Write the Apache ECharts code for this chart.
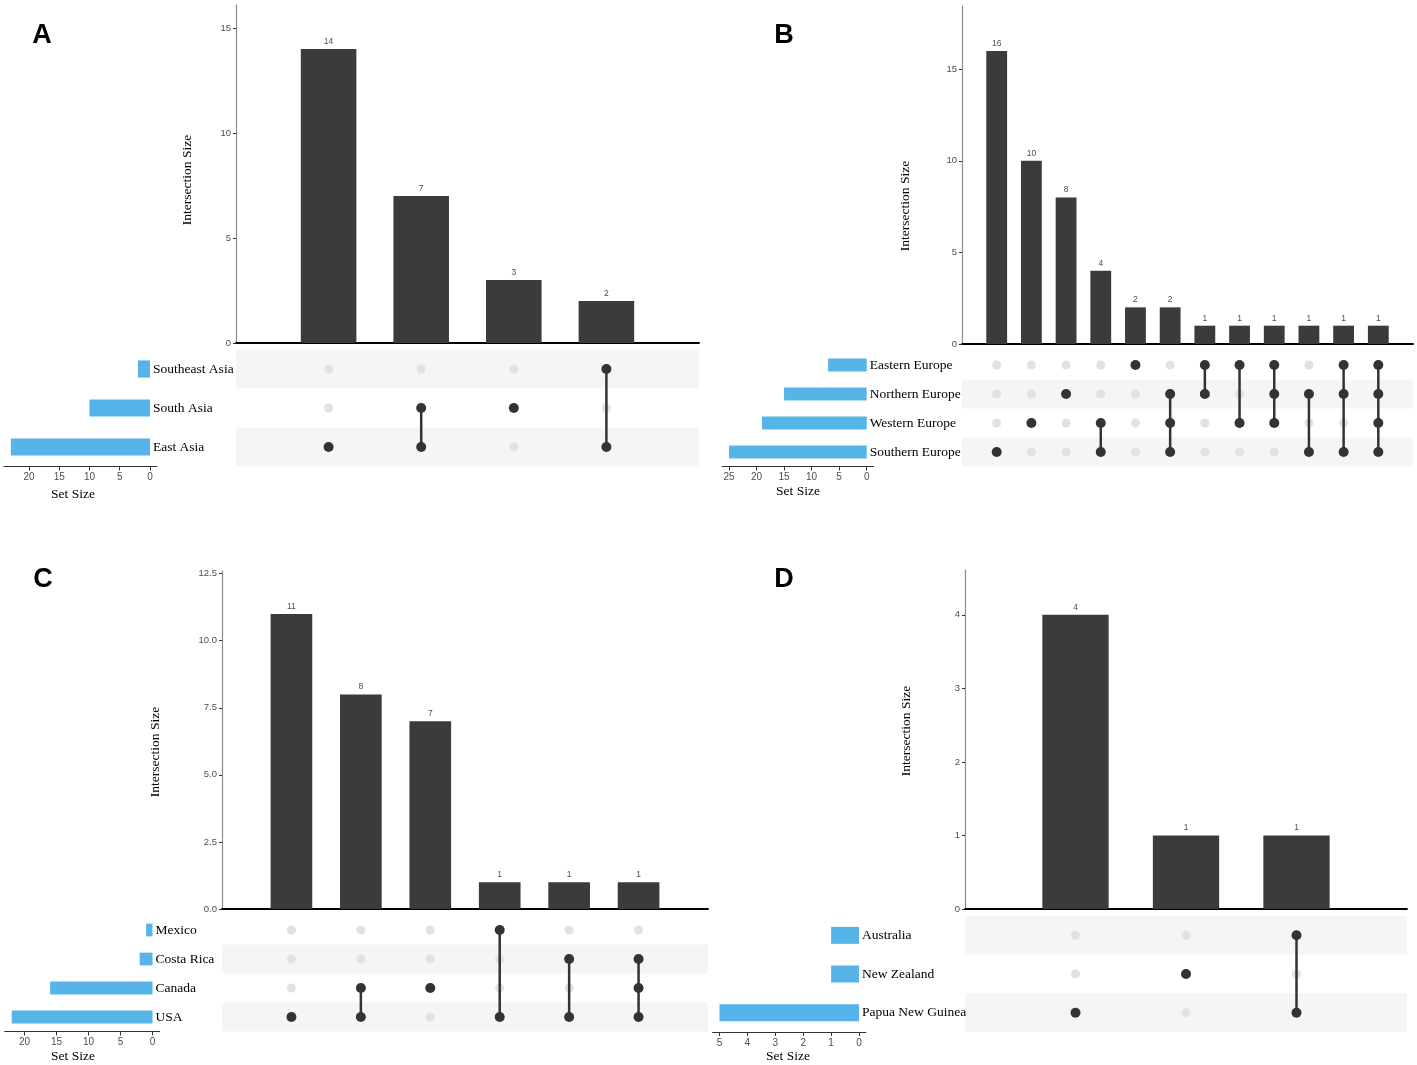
<!DOCTYPE html>
<html lang="en">
<head>
<meta charset="UTF-8">
<title>UpSet regions</title>
<script src="https://cdn.jsdelivr.net/npm/echarts@6/dist/echarts.min.js"></script>
<style>html,body{margin:0;padding:0;background:#fff;}</style>
</head>
<body>
<div id="main" style="width:1417px;height:1065px"></div>
<script>
// A - Asia
var setsA = ['Southeast Asia', 'South Asia', 'East Asia'];
var setSizeA = [2, 10, 23];
var interSizeA = [14, 7, 3, 2];
var membersA = [['East Asia'], ['South Asia', 'East Asia'], ['South Asia'], ['Southeast Asia', 'East Asia']];
var yTicksA = [0, 5, 10, 15];
var sTicksA = [0, 5, 10, 15, 20];

// B - Europe
var setsB = ['Eastern Europe', 'Northern Europe', 'Western Europe', 'Southern Europe'];
var setSizeB = [7, 15, 19, 25];
var interSizeB = [16, 10, 8, 4, 2, 2, 1, 1, 1, 1, 1, 1];
var membersB = [
    ['Southern Europe'],
    ['Western Europe'],
    ['Northern Europe'],
    ['Western Europe', 'Southern Europe'],
    ['Eastern Europe'],
    ['Northern Europe', 'Western Europe', 'Southern Europe'],
    ['Eastern Europe', 'Northern Europe'],
    ['Eastern Europe', 'Western Europe'],
    ['Eastern Europe', 'Northern Europe', 'Western Europe'],
    ['Northern Europe', 'Southern Europe'],
    ['Eastern Europe', 'Northern Europe', 'Southern Europe'],
    ['Eastern Europe', 'Northern Europe', 'Western Europe', 'Southern Europe']
];
var yTicksB = [0, 5, 10, 15];
var sTicksB = [0, 5, 10, 15, 20, 25];

// C - North America
var setsC = ['Mexico', 'Costa Rica', 'Canada', 'USA'];
var setSizeC = [1, 2, 16, 22];
var interSizeC = [11, 8, 7, 1, 1, 1];
var membersC = [['USA'], ['Canada', 'USA'], ['Canada'], ['Mexico', 'USA'], ['Costa Rica', 'USA'], ['Costa Rica', 'Canada', 'USA']];
var yTicksC = [0, 2.5, 5, 7.5, 10, 12.5];
var sTicksC = [0, 5, 10, 15, 20];

// D - Oceania
var setsD = ['Australia', 'New Zealand', 'Papua New Guinea'];
var setSizeD = [1, 1, 5];
var interSizeD = [4, 1, 1];
var membersD = [['Papua New Guinea'], ['New Zealand'], ['Australia', 'Papua New Guinea']];
var yTicksD = [0, 1, 2, 3, 4];
var sTicksD = [0, 1, 2, 3, 4, 5];

// pixel layout of each panel
var layouts = [
    {left: 236, right: 699, top: 5, base: 343, ymax: 16.1, mTop: 349.5, mBot: 466.5, zero: 150, unit: 6.05,
     letter: 'A', lx: 42, ly: 36, tx: 187, ty: 180, sx: 73, sy: 494, dec: 0},
    {left: 962, right: 1413, top: 6, base: 344, ymax: 18.45, mTop: 350.5, mBot: 466.5, zero: 866.7, unit: 5.51,
     letter: 'B', lx: 784, ly: 36, tx: 905, ty: 206, sx: 798, sy: 491, dec: 0},
    {left: 222, right: 708, top: 571, base: 909, ymax: 12.6, mTop: 915.5, mBot: 1031.5, zero: 152.5, unit: 6.4,
     letter: 'C', lx: 43, ly: 580, tx: 155, ty: 752, sx: 73, sy: 1056, dec: 1},
    {left: 965, right: 1407, top: 570, base: 909, ymax: 4.61, mTop: 916, mBot: 1032, zero: 859, unit: 27.9,
     letter: 'D', lx: 784, ly: 580, tx: 906, ty: 731, sx: 788, sy: 1056, dec: 0}
];

var panels = [
    [setsA, setSizeA, interSizeA, membersA, yTicksA, sTicksA],
    [setsB, setSizeB, interSizeB, membersB, yTicksB, sTicksB],
    [setsC, setSizeC, interSizeC, membersC, yTicksC, sTicksC],
    [setsD, setSizeD, interSizeD, membersD, yTicksD, sTicksD]
];

var SERIF = 'Liberation Serif';
var SANS = 'Liberation Sans';

var option = {
    animation: false,
    backgroundColor: '#fff',
    grid: [], xAxis: [], yAxis: [], series: [], graphic: []
};

panels.forEach(function (p, k) {
    var sets = p[0], setSize = p[1], inter = p[2], members = p[3], yTicks = p[4], sTicks = p[5];
    var lay = layouts[k];
    var n = inter.length, nr = sets.length;
    var g0 = 3 * k, g1 = 3 * k + 1, g2 = 3 * k + 2;
    var colW = (lay.right - lay.left) / (n + 1);
    var rowH = (lay.mBot - lay.mTop) / nr;
    var smax = Math.max.apply(null, setSize);
    var sMaxE = smax * 1.05, sMinE = -smax * 0.05;

    // intersection bars
    option.grid.push({left: lay.left, top: lay.top, width: lay.right - lay.left, height: lay.base - lay.top, outerBoundsMode: 'none'});
    option.xAxis.push({gridIndex: g0, type: 'value', min: 0, max: n + 1,
        axisLine: {lineStyle: {color: '#000', width: 1.8}}, axisTick: {show: false}, axisLabel: {show: false}, splitLine: {show: false}});
    option.yAxis.push({gridIndex: g0, type: 'value', min: 0, max: lay.ymax,
        axisLine: {show: true, lineStyle: {color: '#8a8a8a', width: 1.2}},
        axisTick: {show: true, length: 3, customValues: yTicks, lineStyle: {color: '#333'}},
        axisLabel: {customValues: yTicks, margin: 5, fontSize: 9.5, color: '#4d4d4d', fontFamily: SANS,
            formatter: function (v) { return v.toFixed(lay.dec); }},
        splitLine: {show: false}});
    option.series.push({type: 'bar', xAxisIndex: g0, yAxisIndex: g0, silent: true,
        data: inter.map(function (v, i) { return [i + 1, v]; }),
        barWidth: colW * 0.6,
        itemStyle: {color: '#3b3b3b'},
        label: {show: true, position: 'top', distance: 3, fontSize: 8.5, color: '#4d4d4d', fontFamily: SANS,
            formatter: function (q) { return q.value[1]; }}});

    // matrix
    option.grid.push({left: lay.left, top: lay.mTop, width: lay.right - lay.left, height: lay.mBot - lay.mTop, outerBoundsMode: 'none'});
    option.xAxis.push({gridIndex: g1, type: 'value', min: 0, max: n + 1, show: false});
    option.yAxis.push({gridIndex: g1, type: 'value', min: -0.5, max: nr - 0.5, inverse: true, show: false});
    var stripes = [];
    for (var r = 0; r < nr; r++) {
        if ((nr - 1 - r) % 2 === 0) stripes.push([0, r]);
    }
    option.series.push({type: 'custom', xAxisIndex: g1, yAxisIndex: g1, silent: true, z: 1,
        data: stripes,
        renderItem: function (params, api) {
            var rr = api.value(1);
            var a = api.coord([0, rr - 0.5]);
            var b = api.coord([n + 1, rr + 0.5]);
            return {type: 'rect', shape: {x: a[0], y: Math.min(a[1], b[1]), width: b[0] - a[0], height: Math.abs(b[1] - a[1])},
                style: {fill: '#f5f5f5'}};
        }});
    var on = [], off = [], segs = [];
    members.forEach(function (m, c) {
        var idx = m.map(function (s) { return sets.indexOf(s); });
        for (var r = 0; r < nr; r++) {
            if (idx.indexOf(r) >= 0) on.push([c + 1, r]); else off.push([c + 1, r]);
        }
        if (idx.length > 1) segs.push([c + 1, Math.min.apply(null, idx), Math.max.apply(null, idx)]);
    });
    option.series.push({type: 'scatter', xAxisIndex: g1, yAxisIndex: g1, silent: true, z: 2,
        data: off, symbolSize: 9, itemStyle: {color: '#e2e2e2', opacity: 1}});
    option.series.push({type: 'custom', xAxisIndex: g1, yAxisIndex: g1, silent: true, z: 3,
        data: segs,
        renderItem: function (params, api) {
            var a = api.coord([api.value(0), api.value(1)]);
            var b = api.coord([api.value(0), api.value(2)]);
            return {type: 'line', shape: {x1: a[0], y1: a[1], x2: b[0], y2: b[1]},
                style: {stroke: '#333', lineWidth: 2.5}};
        }});
    option.series.push({type: 'scatter', xAxisIndex: g1, yAxisIndex: g1, silent: true, z: 4,
        data: on, symbolSize: 10, itemStyle: {color: '#333', opacity: 1}});

    // set sizes
    var sLeft = lay.zero - sMaxE * lay.unit;
    var sWidth = (sMaxE - sMinE) * lay.unit;
    option.grid.push({left: sLeft, top: lay.mTop, width: sWidth, height: lay.mBot - lay.mTop, outerBoundsMode: 'none'});
    option.xAxis.push({gridIndex: g2, type: 'value', inverse: true, min: sMinE, max: sMaxE,
        axisLine: {show: true, lineStyle: {color: '#333', width: 1}},
        axisTick: {show: true, length: 4, customValues: sTicks, lineStyle: {color: '#333'}},
        axisLabel: {customValues: sTicks, margin: 6, fontSize: 10, color: '#4d4d4d', fontFamily: SANS},
        splitLine: {show: false}});
    // labels start just right of the zero line
    option.yAxis.push({gridIndex: g2, type: 'category', data: sets, inverse: true, position: 'right', z: 10,
        axisLine: {show: false, onZero: false}, axisTick: {show: false},
        axisLabel: {margin: (lay.zero + 3) - (sLeft + sWidth), fontSize: 13.5, color: '#000', fontFamily: SERIF, align: 'left'}});
    option.series.push({type: 'bar', xAxisIndex: g2, yAxisIndex: g2, silent: true,
        data: setSize, barWidth: rowH * 0.44, itemStyle: {color: '#56B4E9'}});

    // texts
    option.graphic.push({type: 'text', x: lay.lx, y: lay.ly,
        style: {text: lay.letter, font: 'bold 27px "Liberation Sans"', fill: '#000', textAlign: 'center', textVerticalAlign: 'middle'}});
    option.graphic.push({type: 'text', x: lay.tx, y: lay.ty, rotation: Math.PI / 2,
        style: {text: 'Intersection Size', font: '13.5px "Liberation Serif"', fill: '#000', textAlign: 'center', textVerticalAlign: 'middle'}});
    option.graphic.push({type: 'text', x: lay.sx, y: lay.sy,
        style: {text: 'Set Size', font: '13.5px "Liberation Serif"', fill: '#000', textAlign: 'center', textVerticalAlign: 'middle'}});
});

var myChart = echarts.init(document.getElementById('main'));
myChart.setOption(option);
</script>
</body>
</html>
